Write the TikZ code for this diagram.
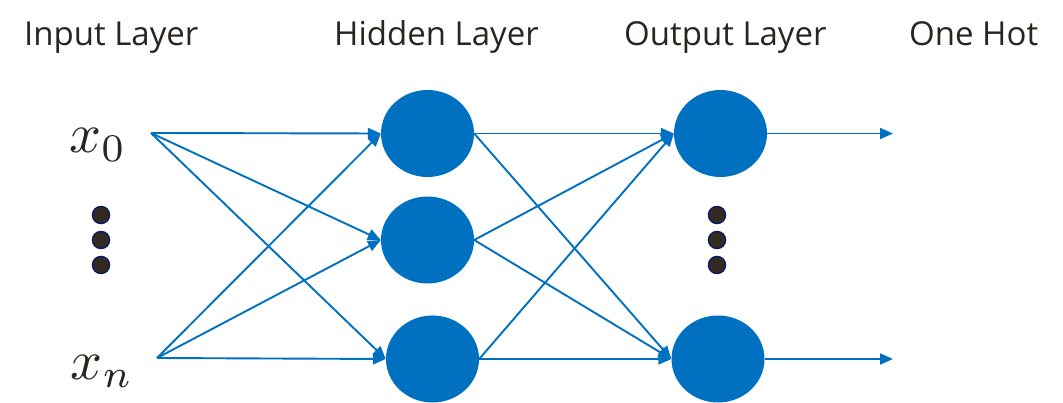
\documentclass[tikz,border=0pt]{standalone}
\usepackage{graphicx}
\usepackage[no-math]{fontspec}
\setmainfont{Open Sans}
\usetikzlibrary{arrows.meta,shapes.geometric}
\definecolor{netblue}{HTML}{0070C0}
\definecolor{dotfill}{HTML}{332B22}
\definecolor{dotrim}{HTML}{0A1F5C}
\definecolor{labelink}{HTML}{2B2520}
\newcommand{\biglabel}[1]{\scalebox{5.6}{$#1$}}
\begin{document}
\begin{tikzpicture}[x=1pt,y=-1pt,
  neuron/.style={ellipse,fill=netblue,draw=none,minimum width=93pt,minimum height=87pt,inner sep=0pt},
  ellipsisdot/.style={circle,fill=dotfill,draw=dotrim,line width=1.5pt,minimum size=17pt,inner sep=0pt},
  link/.style={draw=netblue,line width=1.9pt,-{Triangle[length=13pt,width=11pt]}},
  layertitle/.style={anchor=base west,inner sep=0pt,text=labelink,font=\fontsize{33}{33}\selectfont},
  varlabel/.style={anchor=base,inner sep=0pt,text=labelink}]
\useasboundingbox (0,0) rectangle (1063,403);

% layer titles
\node[layertitle] (tin) at (24,46) {Input Layer};
\node[layertitle] (thid) at (334,46) {Hidden Layer};
\node[layertitle] (tout) at (624,46) {Output Layer};
\node[layertitle] (thot) at (909,46) {One Hot};

% input labels
\node[varlabel] (lx0) at (98,153) {\biglabel{x_0}};
\node[varlabel] (lxn) at (102,379) {\biglabel{x_n}};
\coordinate (i0) at (151,133);
\coordinate (in) at (157,358);

% vertical ellipses
\node[ellipsisdot] (da1) at (101,215) {};
\node[ellipsisdot] (da2) at (101,240) {};
\node[ellipsisdot] (da3) at (101,265) {};
\node[ellipsisdot] (db1) at (717,215) {};
\node[ellipsisdot] (db2) at (717,240) {};
\node[ellipsisdot] (db3) at (717,265) {};

% hidden layer
\node[neuron] (h1) at (427.5,133.5) {};
\node[neuron] (h2) at (427.5,240) {};
\node[neuron] (h3) at (432.5,359) {};

% output layer
\node[neuron] (o1) at (720.5,133.5) {};
\node[neuron] (o2) at (718,359) {};
\coordinate (e1) at (893,133.5);
\coordinate (e2) at (893,359);

% input -> hidden
\foreach \s in {i0,in}
  \foreach \t in {h1,h2,h3}
    \draw[link] (\s) -- (\t.west);

% hidden -> output
\foreach \s in {h1,h2,h3}
  \foreach \t in {o1,o2}
    \draw[link] (\s.east) -- (\t.west);

% output -> one hot
\draw[link] (o1.east) -- (e1);
\draw[link] (o2.east) -- (e2);
\end{tikzpicture}
\end{document}
